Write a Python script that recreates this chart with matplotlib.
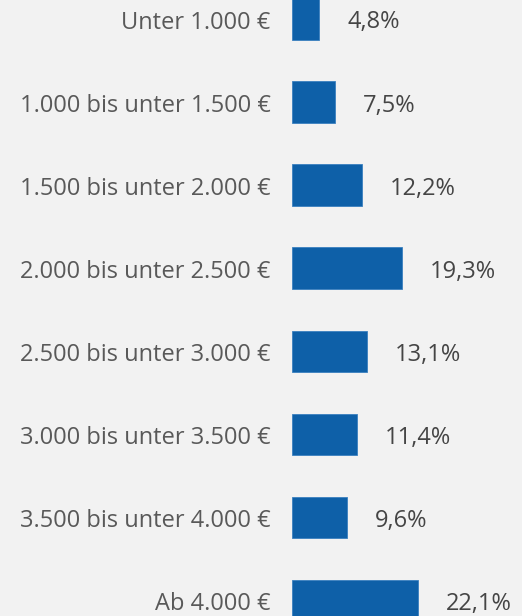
import matplotlib.pyplot as plt
import matplotlib.transforms as mtransforms

# Data
categories = ['Unter 1.000 €', '1.000 bis unter 1.500 €', '1.500 bis unter 2.000 €',
              '2.000 bis unter 2.500 €', '2.500 bis unter 3.000 €', '3.000 bis unter 3.500 €',
              '3.500 bis unter 4.000 €', 'Ab 4.000 €']
values = [4.8, 7.5, 12.2, 19.3, 13.1, 11.4, 9.6, 22.1]
value_labels = ['4,8%', '7,5%', '12,2%', '19,3%', '13,1%', '11,4%', '9,6%', '22,1%']

bg = '#f2f2f2'
plt.rcParams['font.family'] = ['Open Sans', 'DejaVu Sans']

fig = plt.figure(figsize=(5.22, 6.16), dpi=100, facecolor=bg)
ax = fig.add_axes([292 / 522, 0, 230 / 522, 1])
ax.set_facecolor(bg)

pos = range(len(values))
ax.barh(pos, values, height=0.5, color='#0e60a8', edgecolor='#3a80c0', linewidth=0.6)

for p, v, lab in zip(pos, values, value_labels):
    ax.annotate(lab, (v, p), xytext=(20, -2.5), textcoords='offset points',
                ha='left', va='center', fontsize=17, color='#454545')

ax.set_xlim(0, 230 / 5.70)
ax.set_ylim(7.186, -0.229)
ax.set_xticks([])
ax.set_yticks(list(pos))
ax.set_yticklabels(categories, fontsize=17, color='#595959')
ax.tick_params(axis='y', length=0, pad=15.5)
shift = mtransforms.ScaledTranslation(0, -0.6 / 72, fig.dpi_scale_trans)
for t in ax.get_yticklabels():
    t.set_transform(t.get_transform() + shift)
for s in ax.spines.values():
    s.set_visible(False)

fig.savefig('out.png', dpi=100, facecolor=bg)
